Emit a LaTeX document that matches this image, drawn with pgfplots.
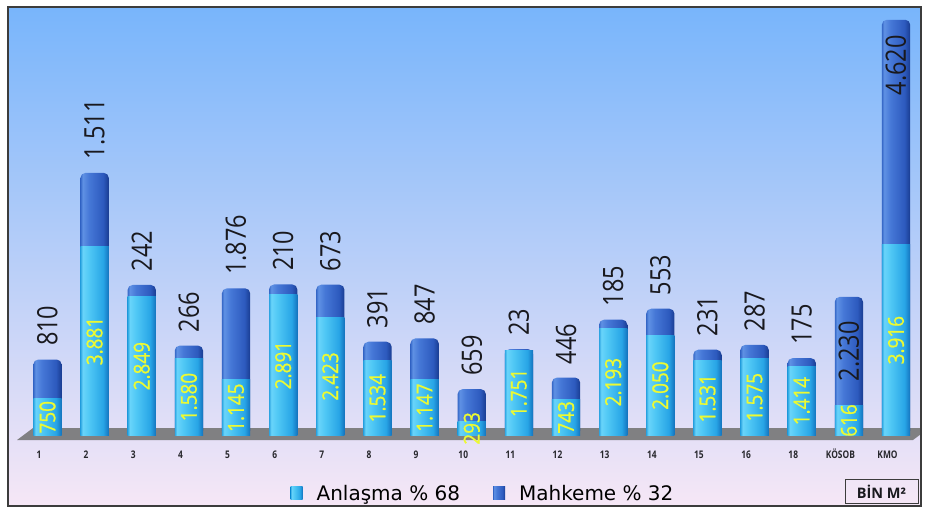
\documentclass[border=0pt]{standalone}
\usepackage{pgfplots}
\pgfplotsset{compat=1.18}
\usepackage{pgfplotstable}
\usepackage{fontspec}
\setmainfont{Open Sans}
\newfontfamily\bigfont[FakeStretch=0.84]{Open Sans}
\newfontfamily\barfont[FakeStretch=0.86, FakeBold=0.8]{Open Sans}
\newfontfamily\tickfont[FakeStretch=0.8]{Open Sans}
\newfontfamily\legfont{DejaVu Sans}

% background and bar colours
\definecolor{bgtop}{RGB}{120,181,251}
\definecolor{bgmid}{RGB}{172,204,242}
\definecolor{bgbot}{RGB}{246,231,246}
\definecolor{floorc}{RGB}{128,128,130}
\definecolor{framec}{RGB}{60,60,60}
\definecolor{lblyellow}{RGB}{236,250,50}
\definecolor{lblblack}{RGB}{25,25,30}
\definecolor{tickc}{RGB}{40,40,45}

\definecolor{LA}{RGB}{45,165,225}
\definecolor{LB}{RGB}{105,212,250}
\definecolor{LC}{RGB}{80,200,245}
\definecolor{LD}{RGB}{40,165,230}
\definecolor{LE}{RGB}{20,115,190}
\definecolor{DA}{RGB}{55,105,200}
\definecolor{DB}{RGB}{95,145,228}
\definecolor{DC}{RGB}{70,120,215}
\definecolor{DD}{RGB}{45,90,190}
\definecolor{DE}{RGB}{25,60,145}

% cylinder-like shading across each bar (bar spans 25bp..75bp)
\pgfdeclarehorizontalshading{cylLight}{100bp}{color(0bp)=(LA); color(25bp)=(LA);
  color(29bp)=(LB); color(40bp)=(LC); color(65bp)=(LD); color(75bp)=(LE); color(100bp)=(LE)}
\pgfdeclarehorizontalshading{cylDark}{100bp}{color(0bp)=(DA); color(25bp)=(DA);
  color(29bp)=(DB); color(40bp)=(DC); color(65bp)=(DD); color(75bp)=(DE); color(100bp)=(DE)}

\pgfplotsset{
  /pgf/number format/.cd, fixed, precision=0, 1000 sep={.}, assume math mode=true,
}

% a = Anlaşma, b = Mahkeme (thousand m²)
\pgfplotstableread{
x   a     b
0   750   810
1   3881  1511
2   2849  242
3   1580  266
4   1145  1876
5   2891  210
6   2423  673
7   1534  391
8   1147  847
9   293   659
10  1751  23
11  743   446
12  2193  185
13  2050  553
14  1531  231
15  1575  287
16  1414  175
17  616   2230
18  3916  4620
}\datatable

\begin{document}
\begin{tikzpicture}
\useasboundingbox (0,0) rectangle (925pt,509pt);
% panel
\shade[top color=bgtop, middle color=bgmid, bottom color=bgbot] (8pt,3pt) rectangle (921pt,502pt);
% floor under the bars
\fill[floorc] (17pt,69pt) -- (33pt,81pt) -- (921pt,81pt) -- (921pt,75pt) -- (913pt,69pt) -- cycle;

\begin{axis}[
  at={(23.9pt,73.5pt)}, anchor=south west,
  scale only axis, width=895.7pt, height=428.6pt,
  xmin=-0.5, xmax=18.5, ymin=0, ymax=8800,
  clip=false,
  axis line style={draw=none},
  tick style={draw=none},
  ytick=\empty,
  xtick={0,1,2,3,4,5,6,7,8,9,10,11,12,13,14,15,16,17,18},
  xticklabels={1,2,3,4,5,6,7,8,9,10,11,12,13,14,15,16,18,KÖSOB,KMO},
  xticklabel style={font=\tickfont\bfseries\fontsize{10.5}{11}\selectfont, text=tickc,
    anchor=base, yshift=-22.5pt, xshift=-8.5pt},
  legend columns=2,
  legend style={at={(axis description cs:0.5126,-0.1318)}, anchor=center,
    draw=none, fill=none, font=\legfont\fontsize{20}{24}\selectfont,
    /tikz/every even column/.append style={column sep=31pt}},
]
% one path per bar, so every bar gets its own cylinder shading;
% Mahkeme on top: full-height bar, Anlaşma drawn over its lower part
\pgfplotsinvokeforeach{0,...,18}{
  \addplot[ybar, bar width=28.3pt, bar shift=0pt, draw=none, shade, shading=cylDark,
    rounded corners=5pt, forget plot, restrict x to domain=#1:#1]
    table[x=x, y expr=\thisrow{a}+\thisrow{b}] {\datatable};
  \addplot[ybar, bar width=28.3pt, bar shift=0pt, draw=none, shade, shading=cylLight,
    forget plot, restrict x to domain=#1:#1]
    table[x=x, y=a] {\datatable};
}

% Anlaşma values inside the lower segment
\addplot[draw=none, forget plot, point meta=explicit,
  nodes near coords={\pgfmathprintnumber{\pgfplotspointmeta}},
  every node near coord/.append style={rotate=90, anchor=center, text=lblyellow,
    font=\barfont\fontsize{22}{22}\selectfont}]
  table[x=x, y expr=0.5*\thisrow{a}, meta=a] {\datatable};

% Mahkeme values above the bars
\addplot[draw=none, forget plot, point meta=explicit, restrict x to domain=0:16,
  nodes near coords={\pgfmathprintnumber{\pgfplotspointmeta}},
  every node near coord/.append style={rotate=90, anchor=west, xshift=10pt, text=lblblack,
    font=\bigfont\fontsize{28}{28}\selectfont}]
  table[x=x, y expr=\thisrow{a}+\thisrow{b}, meta=b] {\datatable};
\addplot[draw=none, forget plot, point meta=explicit, restrict x to domain=17:17,
  nodes near coords={\pgfmathprintnumber{\pgfplotspointmeta}},
  every node near coord/.append style={rotate=90, anchor=center, text=lblblack,
    font=\bigfont\fontsize{28}{28}\selectfont}]
  table[x=x, y expr=\thisrow{a}+0.5*\thisrow{b}, meta=b] {\datatable};
\addplot[draw=none, forget plot, point meta=explicit, restrict x to domain=18:18,
  nodes near coords={\pgfmathprintnumber{\pgfplotspointmeta}},
  every node near coord/.append style={rotate=90, anchor=east, xshift=-12pt, text=lblblack,
    font=\bigfont\fontsize{28}{28}\selectfont}]
  table[x=x, y expr=\thisrow{a}+\thisrow{b}, meta=b] {\datatable};

% legend keys: shaded square inside a fixed invisible box
\addlegendimage{draw=none, legend image code/.code={
  \path[draw=none] (0pt,-8pt) rectangle (24pt,14pt);
  \path[draw=none, shade, shading=cylLight] (0pt,-6pt) rectangle (12pt,7pt);}}
\addlegendentry{Anlaşma \% 68}
\addlegendimage{draw=none, legend image code/.code={
  \path[draw=none] (0pt,-8pt) rectangle (24pt,14pt);
  \path[draw=none, shade, shading=cylDark] (0pt,-6pt) rectangle (12pt,7pt);}}
\addlegendentry{Mahkeme \% 32}
\end{axis}

% unit box
\draw[framec, line width=0.8pt] (845pt,5.5pt) rectangle (918pt,30pt);
\node[font=\bfseries\fontsize{14.5}{15}\selectfont, text=lblblack] at (881.5pt,17.5pt) {BİN M²};
% outer frame
\draw[framec, line width=2pt] (8pt,3pt) rectangle (921pt,502pt);
\end{tikzpicture}
\end{document}
